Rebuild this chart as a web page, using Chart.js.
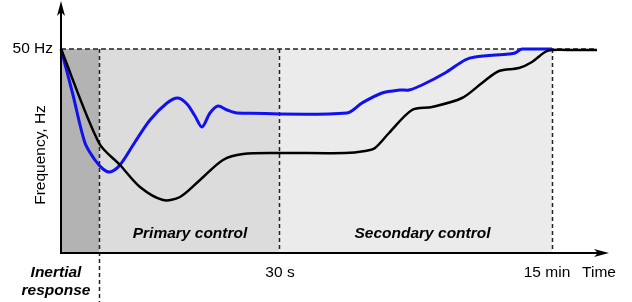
<!DOCTYPE html>
<html><head><meta charset="utf-8">
<script src="https://cdn.jsdelivr.net/npm/chart.js@4"></script>
<style>html,body{margin:0;padding:0;background:#fff}#c{display:block}</style>
</head><body>
<canvas id="c" width="632" height="302"></canvas>
<script>
// Time axis in arbitrary units (0 = disturbance), frequency in relative units (204 = 50 Hz)
const nominalLabel = "50 Hz";
const nominalValue = 204;
const phaseBounds = [0, 38, 218, 491];   // inertial | primary | secondary | end
const phaseLabels = ["Primary control", "Secondary control"];
const tickValues = [218, 491];
const tickLabels = ["30 s", "15 min"];
const blueX = [0,12,24,34,42,49,59,74,89,106,117,126,134,141,149,157,166,176,286,301,321,339,348,361,384,404,414,448,454,461,491];
const blueY = [204,158,110,93,84,81,88,111,133,150,155,149,137,126,140,147,143,140,140,150,160,163,163,168,180,193,196,199,200,204,204];
const blackX = [0,38,59,79,102,119,139,162,182,218,284,304,314,328,351,371,401,421,438,458,471,484,491,514,536];
const blackY = [204,110,88,66,53,56,73,93,99,100,100,102,105,120,143,146,155,170,182,185,191,201,203,203,203];

const pts = (xs, ys) => xs.map((x, i) => ({x, y: ys[i]}));

const deco = {
  id: 'deco',
  beforeDatasetsDraw(chart) {
    const {ctx} = chart, sx = chart.scales.x, sy = chart.scales.y;
    const top = sy.getPixelForValue(nominalValue), bot = sy.getPixelForValue(0);
    const fills = ['#b3b3b3', '#dcdcdc', '#ebebeb'];
    ctx.save();
    for (let i = 0; i < 3; i++) {
      const a = sx.getPixelForValue(phaseBounds[i]), b = sx.getPixelForValue(phaseBounds[i+1]);
      ctx.fillStyle = fills[i];
      ctx.fillRect(a, top, b - a, bot - top);
    }
    ctx.strokeStyle = '#222'; ctx.lineWidth = 1.5; ctx.setLineDash([5, 3]);
    const x0 = sx.getPixelForValue(0);
    ctx.beginPath(); ctx.moveTo(x0, top); ctx.lineTo(sx.getPixelForValue(536), top); ctx.stroke();
    ctx.setLineDash([4, 3]);
    const xi = Math.round(sx.getPixelForValue(phaseBounds[1])) + 0.5;
    ctx.beginPath(); ctx.moveTo(xi, top); ctx.lineTo(xi, 302); ctx.stroke();
    for (const v of tickValues) {
      const xp = Math.round(sx.getPixelForValue(v)) + 0.5;
      ctx.beginPath(); ctx.moveTo(xp, top); ctx.lineTo(xp, bot); ctx.stroke();
    }
    ctx.setLineDash([]);
    // texts
    ctx.fillStyle = '#000';
    ctx.font = 'bold italic 15.5px "Liberation Sans", Arial, sans-serif';
    ctx.textAlign = 'center'; ctx.textBaseline = 'middle';
    ctx.fillText(phaseLabels[0], (sx.getPixelForValue(phaseBounds[1]) + sx.getPixelForValue(phaseBounds[2])) / 2 + 1, 234);
    ctx.fillText(phaseLabels[1], (sx.getPixelForValue(phaseBounds[2]) + sx.getPixelForValue(phaseBounds[3])) / 2 + 7, 234);
    ctx.fillText('Inertial', 56, 273);
    ctx.fillText('response', 56, 291);
    ctx.font = '15.5px "Liberation Sans", Arial, sans-serif';
    ctx.fillText(tickLabels[0], sx.getPixelForValue(tickValues[0]) + 1, 273);
    ctx.fillText(tickLabels[1], sx.getPixelForValue(tickValues[1]) - 5, 273);
    ctx.fillText('Time', 599, 273);
    ctx.textAlign = 'right';
    ctx.fillText(nominalLabel, 53, top);
    ctx.save();
    ctx.translate(41, 155); ctx.rotate(-Math.PI / 2);
    ctx.textAlign = 'center';
    ctx.fillText('Frequency, Hz', 0, 0);
    ctx.restore();
    ctx.restore();
  },
  afterDatasetsDraw(chart) {
    const {ctx} = chart, sx = chart.scales.x, sy = chart.scales.y;
    const x0 = sx.getPixelForValue(0), bot = sy.getPixelForValue(0), right = sx.getPixelForValue(547);
    ctx.save();
    ctx.strokeStyle = '#000'; ctx.fillStyle = '#000'; ctx.lineWidth = 2;
    ctx.beginPath(); ctx.moveTo(x0, bot); ctx.lineTo(x0, 6); ctx.stroke();
    ctx.beginPath(); ctx.moveTo(x0 - 1, bot); ctx.lineTo(right - 6, bot); ctx.stroke();
    // arrowheads
    ctx.beginPath(); ctx.moveTo(x0, 1); ctx.lineTo(x0 - 4, 16); ctx.lineTo(x0, 12); ctx.lineTo(x0 + 4, 16); ctx.closePath(); ctx.fill();
    ctx.beginPath(); ctx.moveTo(right + 1, bot); ctx.lineTo(right - 14, bot - 4); ctx.lineTo(right - 10, bot); ctx.lineTo(right - 14, bot + 4); ctx.closePath(); ctx.fill();
    ctx.restore();
  }
};

new Chart(document.getElementById('c'), {
  type: 'line',
  data: {
    datasets: [
      {data: pts(blackX, blackY), borderColor: '#000', borderWidth: 2.5, tension: 0.3, pointRadius: 0, clip: false},
      {data: pts(blueX, blueY), borderColor: '#1010f0', borderWidth: 3, tension: 0.3, pointRadius: 0, clip: false}
    ]
  },
  options: {
    responsive: false, animation: false,
    layout: {padding: {left: 61, top: 49, right: 24, bottom: 49}},
    scales: {
      x: {type: 'linear', min: 0, max: 547, display: false},
      y: {min: 0, max: 204, display: false}
    },
    plugins: {legend: {display: false}, tooltip: {enabled: false}}
  },
  plugins: [deco]
});
</script>
</body></html>
